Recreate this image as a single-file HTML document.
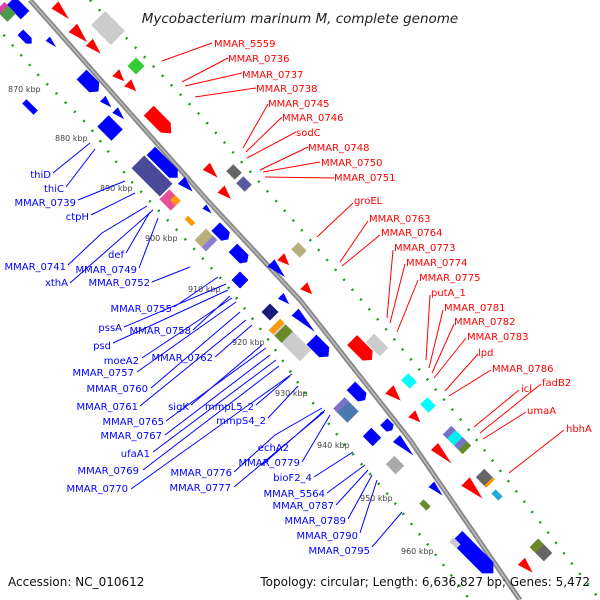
<!DOCTYPE html>
<html><head><meta charset="utf-8"><style>
html,body{margin:0;padding:0;background:#fff;}
svg{display:block;font-family:"DejaVu Sans","Liberation Sans",sans-serif;}
.r{fill:#f00;font-size:10px;}
.b{fill:#00f;font-size:10px;text-anchor:end;}
.k{fill:#444;font-size:8px;}
.rl{stroke:#f00;stroke-width:1;fill:none;}
.bl{stroke:#00f;stroke-width:1;fill:none;}
</style></head><body>
<svg width="600" height="600" viewBox="0 0 600 600" xmlns="http://www.w3.org/2000/svg">
<rect width="600" height="600" fill="#fff"/>
<path d="M-5,25 L40,77 L88,125 L130,180 L175,228 L225,283 L265,335 L303,390 L345,445 L390,497 L432,550 L470,600" stroke="#1a9a1a" stroke-width="2.5" fill="none" stroke-dasharray="2,11"/>
<path d="M90,0 L200,115 L300,228 L380,322 L465,425 L550,535 L600,600" stroke="#1a9a1a" stroke-width="2.5" fill="none" stroke-dasharray="2,11"/>
<path d="M30,0 L207,200 L300,300 L410,440 L520,600" stroke="#888" stroke-width="5" fill="none"/>
<path d="M30,0 L207,200 L300,300 L410,440 L520,600" stroke="#bbb" stroke-width="1.5" fill="none"/>

<g fill="#00f">
<g transform="translate(18,8) rotate(45)"><rect x="-10" y="-6" width="20" height="12"/></g>
<g transform="translate(26,38) rotate(45)"><polygon points="-8,-4 4,-4 8,0 4,4 -8,4"/></g>
<g transform="translate(30,107) rotate(45)"><rect x="-8" y="-3" width="16" height="6"/></g>
<g transform="translate(52,43) rotate(45)"><polygon points="-6,-3 6,0 -6,3"/></g>
<g transform="translate(90,83) rotate(45)"><polygon points="-12,-7 6,-7 12,0 6,7 -12,7"/></g>
<g transform="translate(107,103) rotate(45)"><polygon points="-6,-4 6,0 -6,4"/></g>
<g transform="translate(120,115) rotate(45)"><polygon points="-7,-4 6,0 -7,4"/></g>
<g transform="translate(110,128) rotate(45)"><rect x="-10" y="-8" width="20" height="16"/></g>
<g transform="translate(165,165) rotate(45)"><polygon points="-20,-6 12,-6 18,0 12,6 -20,6"/></g>
<g transform="translate(187,186) rotate(45)"><polygon points="-8,-5 8,0 -8,5"/></g>
<g transform="translate(208,210) rotate(45)"><polygon points="-5,-3 5,0 -5,3"/></g>
<g transform="translate(222,233) rotate(45)"><polygon points="-9,-6 5,-6 9,0 5,6 -9,6"/></g>
<g transform="translate(240,255) rotate(45)"><polygon points="-10,-6 6,-6 10,0 6,6 -10,6"/></g>
<g transform="translate(240,280) rotate(45)"><rect x="-6" y="-6" width="12" height="12"/></g>
<g transform="translate(278,270) rotate(45)"><polygon points="-10,-5 10,0 -10,5"/></g>
<g transform="translate(285,300) rotate(45)"><polygon points="-6,-4 6,0 -6,4"/></g>
<g transform="translate(305,322) rotate(45)"><polygon points="-14,-5 14,0 -14,5"/></g>
<g transform="translate(320,348) rotate(45)"><polygon points="-12,-7 6,-7 12,0 6,7 -12,7"/></g>
<g transform="translate(358,393) rotate(45)"><polygon points="-10,-6 6,-6 10,0 6,6 -10,6"/></g>
<g transform="translate(372,437) rotate(45)"><rect x="-7" y="-6" width="14" height="12"/></g>
<g transform="translate(388,426) rotate(45)"><polygon points="-6,-5 3,-5 6,0 3,5 -6,5"/></g>
<g transform="translate(405,447) rotate(45)"><polygon points="-12,-5 12,0 -12,5"/></g>
<g transform="translate(437,490) rotate(45)"><polygon points="-8,-4 8,0 -8,4"/></g>
<g transform="translate(475,555) rotate(45)"><polygon points="-26,-8 18,-8 26,0 18,8 -26,8"/></g>
</g>
<g transform="translate(152,176) rotate(45)"><rect x="-20" y="-9" width="40" height="18" fill="#4a4a9a"/></g>
<g transform="translate(170,200) rotate(45)"><rect x="-8" y="-7" width="16" height="14" fill="#e6509a"/><rect x="0" y="-7" width="8" height="7" fill="#f90"/></g>
<g transform="translate(190,221) rotate(45)"><rect x="-5" y="-2.5" width="10" height="5" fill="#f90"/></g>
<g transform="translate(206,240) rotate(45)"><rect x="-8" y="-8" width="16" height="16" fill="#b8b07a"/><rect x="2" y="-8" width="6" height="16" fill="#8a80d0"/></g>
<g transform="translate(270,312) rotate(45)"><rect x="-6" y="-6" width="12" height="12" fill="#1a1a7a"/></g>
<g transform="translate(290,340) rotate(45)"><rect x="-22" y="-8" width="44" height="16" fill="#ccc"/><rect x="-22" y="-8" width="6" height="16" fill="#f90"/><rect x="-14" y="-8" width="10" height="16" fill="#6a8a2a"/></g>
<g transform="translate(346,410) rotate(45)"><rect x="-10" y="-8" width="20" height="16" fill="#4a7ab0"/><rect x="-10" y="-8" width="6" height="16" fill="#7a70c8"/></g>
<g transform="translate(395,465) rotate(45)"><rect x="-7" y="-6" width="14" height="12" fill="#aaa"/></g>
<g transform="translate(425,505) rotate(45)"><rect x="-5" y="-3" width="10" height="6" fill="#6a8a2a"/></g>
<g transform="translate(455,543) rotate(45)"><rect x="-5" y="-3" width="10" height="6" fill="#ccc"/></g>
<g transform="translate(6,12) rotate(45)"><rect x="-8" y="-6" width="16" height="12" fill="#4a9a4a"/><rect x="-8" y="-6" width="5" height="12" fill="#e040a0"/></g>

<g fill="#f00">
<g transform="translate(62,12) rotate(45)"><polygon points="-10,-5 10,0 -10,5"/></g>
<g transform="translate(80,35) rotate(45)"><polygon points="-10,-6 10,0 -10,6"/></g>
<g transform="translate(95,48) rotate(45)"><polygon points="-8,-5 8,0 -8,5"/></g>
<g transform="translate(120,77) rotate(45)"><polygon points="-6,-5 6,0 -6,5"/></g>
<g transform="translate(132,87) rotate(45)"><polygon points="-6,-5 6,0 -6,5"/></g>
<g transform="translate(160,122) rotate(45)"><polygon points="-16,-7 8,-7 16,0 8,7 -16,7"/></g>
<g transform="translate(212,172) rotate(45)"><polygon points="-8,-5 8,0 -8,5"/></g>
<g transform="translate(226,194) rotate(45)"><polygon points="-7,-5 7,0 -7,5"/></g>
<g transform="translate(285,261) rotate(45)"><polygon points="-6,-5 6,0 -6,5"/></g>
<g transform="translate(308,290) rotate(45)"><polygon points="-6,-5 6,0 -6,5"/></g>
<g transform="translate(362,350) rotate(45)"><polygon points="-14,-7 8,-7 14,0 8,7 -14,7"/></g>
<g transform="translate(395,395) rotate(45)"><polygon points="-8,-6 8,0 -8,6"/></g>
<g transform="translate(416,418) rotate(45)"><polygon points="-6,-5 6,0 -6,5"/></g>
<g transform="translate(443,455) rotate(45)"><polygon points="-12,-5 12,0 -12,5"/></g>
<g transform="translate(474,490) rotate(45)"><polygon points="-12,-6 12,0 -12,6"/></g>
<g transform="translate(527,567) rotate(45)"><polygon points="-8,-5 8,0 -8,5"/></g>
</g>
<g transform="translate(108,28) rotate(45)"><rect x="-14" y="-10" width="28" height="20" fill="#ccc"/></g>
<g transform="translate(136,66) rotate(45)"><rect x="-6" y="-6" width="12" height="12" fill="#3c3"/></g>
<g transform="translate(234,172) rotate(45)"><rect x="-6" y="-5" width="12" height="10" fill="#666"/></g>
<g transform="translate(244,184) rotate(45)"><rect x="-6" y="-5" width="12" height="10" fill="#5a5a9a"/></g>
<g transform="translate(299,250) rotate(45)"><rect x="-6" y="-5" width="12" height="10" fill="#b8b07a"/></g>
<g transform="translate(377,345) rotate(45)"><rect x="-10" y="-6" width="20" height="12" fill="#ccc"/></g>
<g transform="translate(409,381) rotate(45)"><rect x="-6" y="-5" width="12" height="10" fill="#0ff"/></g>
<g transform="translate(428,405) rotate(45)"><rect x="-6" y="-5" width="12" height="10" fill="#0ff"/></g>
<g transform="translate(457,440) rotate(45)"><rect x="-14" y="-6" width="28" height="12" fill="#0ee"/><rect x="-14" y="-6" width="6" height="12" fill="#7a70c8"/><rect x="2" y="-6" width="6" height="12" fill="#7a70c8"/><rect x="8" y="-6" width="6" height="12" fill="#6a8a2a"/></g>
<g transform="translate(485,478) rotate(45)"><rect x="-7" y="-6" width="14" height="12" fill="#666"/><rect x="5" y="-6" width="3" height="12" fill="#f90"/></g>
<g transform="translate(497,495) rotate(45)"><rect x="-5" y="-3" width="10" height="6" fill="#2ad"/></g>
<g transform="translate(541,550) rotate(45)"><rect x="-10" y="-6" width="20" height="12" fill="#666"/><rect x="-10" y="-6" width="8" height="12" fill="#6a8a2a"/></g>

<text class="k" x="8" y="92">870 kbp</text>
<text class="k" x="55" y="141">880 kbp</text>
<text class="k" x="100" y="191">890 kbp</text>
<text class="k" x="145" y="241">900 kbp</text>
<text class="k" x="188" y="292">910 kbp</text>
<text class="k" x="232" y="345">920 kbp</text>
<text class="k" x="275" y="396">930 kbp</text>
<text class="k" x="317" y="448">940 kbp</text>
<text class="k" x="360" y="501">950 kbp</text>
<text class="k" x="401" y="554">960 kbp</text>

<g>
<path class="rl" d="M212,43 L162,61 M228,58 L182,82 M242,73 L185,86 M256,88 L195,97 M268,104 L243,148 M282,117 L246,152 M296,132 L247,158 M308,147 L260,170 M320,162 L263,172 M334,178 L265,177 M353,203 L317,237 M368,221 L340,262 M380,235 L342,266 M393,250 L387,318 M405,264 L390,323 M418,280 L397,332 M430,295 L426,360 M443,310 L429,368 M454,324 L432,373 M466,338 L434,378 M478,354 L445,391 M491,370 L449,396 M519,390 L474,427 M541,384 L480,433 M526,412 L483,439 M564,430 L509,473"/>
<text class="r" x="214" y="47">MMAR_5559</text>
<text class="r" x="228" y="62">MMAR_0736</text>
<text class="r" x="242" y="78">MMAR_0737</text>
<text class="r" x="256" y="92">MMAR_0738</text>
<text class="r" x="268" y="107">MMAR_0745</text>
<text class="r" x="282" y="121">MMAR_0746</text>
<text class="r" x="296" y="136">sodC</text>
<text class="r" x="308" y="151">MMAR_0748</text>
<text class="r" x="321" y="166">MMAR_0750</text>
<text class="r" x="334" y="181">MMAR_0751</text>
<text class="r" x="354" y="204">groEL</text>
<text class="r" x="369" y="222">MMAR_0763</text>
<text class="r" x="381" y="236">MMAR_0764</text>
<text class="r" x="394" y="251">MMAR_0773</text>
<text class="r" x="406" y="266">MMAR_0774</text>
<text class="r" x="419" y="281">MMAR_0775</text>
<text class="r" x="431" y="296">putA_1</text>
<text class="r" x="444" y="311">MMAR_0781</text>
<text class="r" x="454" y="325">MMAR_0782</text>
<text class="r" x="467" y="340">MMAR_0783</text>
<text class="r" x="478" y="356">lpd</text>
<text class="r" x="492" y="372">MMAR_0786</text>
<text class="r" x="521" y="392">icl</text>
<text class="r" x="542" y="386">fadB2</text>
<text class="r" x="527" y="414">umaA</text>
<text class="r" x="566" y="432">hbhA</text>
</g>

<g>
<path class="bl" d="M53,173 L90,143 M66,187 L95,149 M78,200 L125,181 M91,215 L135,193 M68,265 L102,233 L147,206 M126,253 L150,212 M139,268 L158,218 M70,283 L153,210 M152,282 L190,267
M174,307 L218,277 M124,327 L226,284 M193,330 L230,296 M113,343 L228,290 M142,358 L232,298 M215,357 L252,325 M137,372 L236,302 M151,388 L240,312 M140,406 L246,320 M191,405 L262,345 M166,421 L266,348 M256,405 L290,376 M165,435 L270,355 M268,418 L298,386 M153,452 L276,360 M143,470 L279,366 M131,489 L292,374
M262,465 L325,410 M302,462 L330,415 M234,472 L275,435 L322,408 M234,487 L324,412 M314,477 L353,452 M327,493 L365,465 M336,505 L368,470 M348,519 L372,475 M360,533 L377,480 M372,547 L402,512"/>
<text class="b" x="51" y="178">thiD</text>
<text class="b" x="64" y="192">thiC</text>
<text class="b" x="76" y="206">MMAR_0739</text>
<text class="b" x="89" y="220">ctpH</text>
<text class="b" x="66" y="270">MMAR_0741</text>
<text class="b" x="124" y="258">def</text>
<text class="b" x="137" y="273">MMAR_0749</text>
<text class="b" x="68" y="286">xthA</text>
<text class="b" x="150" y="286">MMAR_0752</text>
<text class="b" x="172" y="312">MMAR_0755</text>
<text class="b" x="122" y="331">pssA</text>
<text class="b" x="191" y="334">MMAR_0758</text>
<text class="b" x="111" y="349">psd</text>
<text class="b" x="139" y="364">moeA2</text>
<text class="b" x="213" y="361">MMAR_0762</text>
<text class="b" x="134" y="376">MMAR_0757</text>
<text class="b" x="148" y="392">MMAR_0760</text>
<text class="b" x="138" y="410">MMAR_0761</text>
<text class="b" x="189" y="410">sigK</text>
<text class="b" x="254" y="410">mmpL5_2</text>
<text class="b" x="164" y="425">MMAR_0765</text>
<text class="b" x="266" y="424">mmpS4_2</text>
<text class="b" x="162" y="439">MMAR_0767</text>
<text class="b" x="150" y="457">ufaA1</text>
<text class="b" x="289" y="451">echA2</text>
<text class="b" x="300" y="466">MMAR_0779</text>
<text class="b" x="232" y="476">MMAR_0776</text>
<text class="b" x="312" y="481">bioF2_4</text>
<text class="b" x="139" y="474">MMAR_0769</text>
<text class="b" x="128" y="492">MMAR_0770</text>
<text class="b" x="231" y="491">MMAR_0777</text>
<text class="b" x="325" y="497">MMAR_5564</text>
<text class="b" x="334" y="509">MMAR_0787</text>
<text class="b" x="346" y="524">MMAR_0789</text>
<text class="b" x="358" y="539">MMAR_0790</text>
<text class="b" x="370" y="554">MMAR_0795</text>
</g>

<text x="300" y="23" text-anchor="middle" font-style="italic" font-size="13.5" fill="#222">Mycobacterium marinum M, complete genome</text>
<text x="8" y="586" font-size="12" fill="#111">Accession: NC_010612</text>
<text x="590" y="586" text-anchor="end" font-size="12" fill="#111">Topology: circular; Length: 6,636,827 bp; Genes: 5,472</text>
</svg>
</body></html>
